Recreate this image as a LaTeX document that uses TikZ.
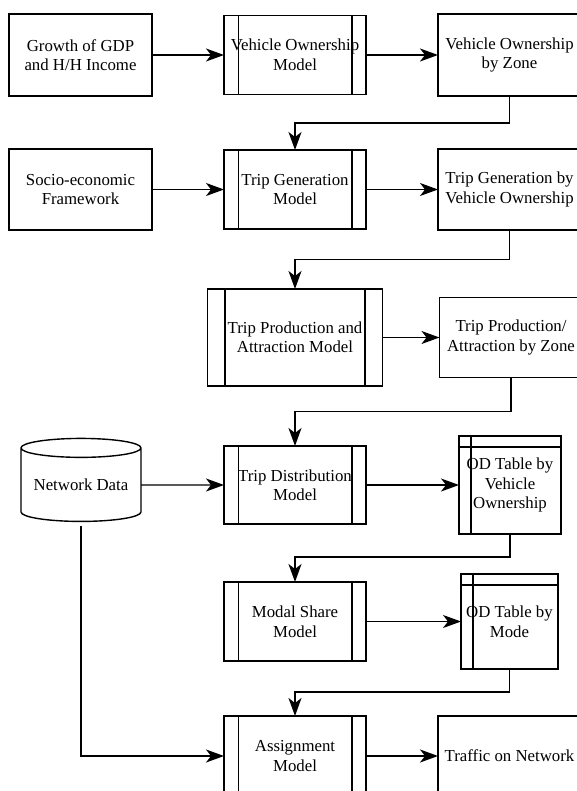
\documentclass[tikz,border=0pt]{standalone}
\usepackage{fontspec}
\setmainfont{Liberation Serif}
\usetikzlibrary{arrows.meta,positioning,shapes.geometric,calc}
\tikzset{
  box/.style={rectangle, draw=black, fill=white, line width=1.4pt, align=center,
              inner sep=0pt, outer sep=0pt, font=\fontsize{16.8}{19.5}\selectfont},
  modelbox/.style={box, path picture={
    \draw[line width=1.4pt] ($(path picture bounding box.north west)!0.1!(path picture bounding box.north east)$)
      -- ($(path picture bounding box.south west)!0.1!(path picture bounding box.south east)$);
    \draw[line width=1.4pt] ($(path picture bounding box.north east)!0.1!(path picture bounding box.north west)$)
      -- ($(path picture bounding box.south east)!0.1!(path picture bounding box.south west)$);}},
  tablebox/.style={box, path picture={
    \draw[line width=1.4pt] ([xshift=12pt]path picture bounding box.north west) -- ([xshift=12pt]path picture bounding box.south west);
    \draw[line width=1.4pt] ([yshift=-11pt]path picture bounding box.north west) -- ([yshift=-11pt]path picture bounding box.north east);}},
  dbnode/.style={box, cylinder, shape border rotate=90, aspect=0.2},
  flow/.style={-{Stealth[length=18pt, width=13pt, inset=5pt]}, draw=black, line width=1.4pt}
}

\begin{document}
\begin{tikzpicture}
 \useasboundingbox (0,0) rectangle (576pt,-791pt);
 \node[box, minimum width=143pt, minimum height=82pt] (gdp) at (80.5pt,-55pt) {Growth of GDP\\and H/H Income};
 \node[modelbox, right=72pt of gdp, minimum width=142pt, minimum height=79pt] (vomodel) {Vehicle Ownership\\Model};
 \node[box, right=72pt of vomodel, minimum width=143pt, minimum height=82pt] (vozone) {Vehicle Ownership\\by Zone};

 \node[box, below=53pt of gdp, minimum width=143pt, minimum height=81pt] (socio) {Socio-economic\\Framework};
 \node[modelbox, right=72pt of socio, minimum width=142pt, minimum height=79pt] (tgmodel) {Trip Generation\\Model};
 \node[box, right=72pt of tgmodel, minimum width=143pt, minimum height=81pt] (tgvo) {Trip Generation by\\Vehicle Ownership};

 \node[modelbox, below=60pt of tgmodel, minimum width=175pt, minimum height=97pt] (tpamodel) {Trip Production and\\Attraction Model};
 \node[box, right=57pt of tpamodel, minimum width=143pt, minimum height=80pt] (tpazone) {Trip Production/\\Attraction by Zone};

 \node[modelbox, below=60pt of tpamodel, minimum width=142pt, minimum height=78pt] (tdmodel) {Trip Distribution\\Model};
 \node[dbnode, left=83pt of tdmodel, minimum width=120pt, minimum height=83pt] (netdata) {Network Data};
 \node[tablebox, right=93pt of tdmodel, minimum width=102pt, minimum height=98pt] (odvo) {OD Table by\\Vehicle\\Ownership};

 \node[modelbox, below=58pt of tdmodel, minimum width=142pt, minimum height=79pt] (msmodel) {Modal Share\\Model};
 \node[tablebox, right=95pt of msmodel, minimum width=97pt, minimum height=95pt] (odmode) {OD Table by\\Mode};

 \node[modelbox, below=55pt of msmodel, minimum width=142pt, minimum height=80pt] (asgmodel) {Assignment\\Model};
 \node[box, right=72pt of asgmodel, minimum width=143pt, minimum height=80pt] (traffic) {Traffic on Network};

 \draw[flow] (gdp) -- (vomodel);
 \draw[flow] (vomodel) -- (vozone);
 \draw[flow] (vozone.south) -- ++(0,-27pt) -| (tgmodel.north);
 \draw[flow] (socio) -- (tgmodel);
 \draw[flow] (tgmodel) -- (tgvo);
 \draw[flow] (tgvo.south) -- ++(0,-29.5pt) -| (tpamodel.north);
 \draw[flow] (tpamodel) -- (tpazone);
 \draw[flow] (tpazone.south) -- ++(0,-34pt) -| (tdmodel.north);
 \draw[flow] (netdata) -- (tdmodel);
 \draw[flow] (tdmodel) -- (odvo);
 \draw[flow] (odvo.south) -- ++(0,-23pt) -| (msmodel.north);
 \draw[flow] (msmodel) -- (odmode);
 \draw[flow] (odmode.south) -- ++(0,-23pt) -| (asgmodel.north);
 \draw[flow] ([yshift=-5pt]netdata.south) |- (asgmodel.west);
 \draw[flow] (asgmodel) -- (traffic);
\end{tikzpicture}
\end{document}
